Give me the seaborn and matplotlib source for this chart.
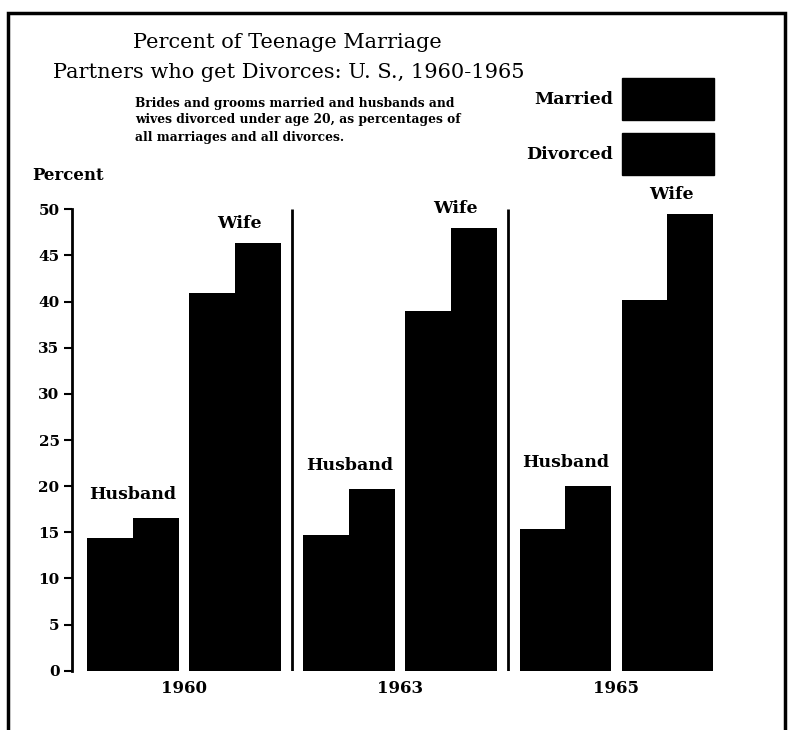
import matplotlib
matplotlib.use("Agg")
import matplotlib.pyplot as plt
from matplotlib.patches import Rectangle, Patch
import pandas as pd
import seaborn as sns

years = ['1960', '1963', '1965']
spouses = ['Husband', 'Wife']
husband_married = [14.4, 14.7, 15.4]
husband_divorced = [16.5, 19.7, 20.0]
wife_married = [40.9, 39.0, 40.2]
wife_divorced = [46.3, 48.0, 49.5]

sns.set_theme(style='white')
plt.rcParams['font.family'] = ['DejaVu Serif']
plt.rcParams['text.color'] = 'black'
plt.rcParams['xtick.color'] = 'black'
plt.rcParams['ytick.color'] = 'black'

W, H = 793, 730
YEAR_STEP = 2.12

rows = []
for i, yr in enumerate(years):
    for j, sp in enumerate(spouses):
        m = husband_married[i] if sp == 'Husband' else wife_married[i]
        d = husband_divorced[i] if sp == 'Husband' else wife_divorced[i]
        pos = i * YEAR_STEP + j
        rows.append({'pos': pos, 'year': yr, 'spouse': sp, 'status': 'Married', 'pct': m})
        rows.append({'pos': pos, 'year': yr, 'spouse': sp, 'status': 'Divorced', 'pct': d})
df = pd.DataFrame(rows)

fig = plt.figure(figsize=(W / 100, H / 100), dpi=100)
fig.patch.set_facecolor('white')

def fx(x):
    return x / W

def fy(y):
    return 1 - y / H

ax = fig.add_axes([fx(72), fy(670.7), fx(720) - fx(72), fy(209.3) - fy(670.7)])
sns.barplot(data=df, x='pos', y='pct', hue='status', hue_order=['Married', 'Divorced'],
            native_scale=True, palette=['black', 'black'], width=0.9, saturation=1,
            errorbar=None, legend=False, linewidth=0, ax=ax)
ax.set_xlim(-0.598, 5.755)
ax.set_ylim(0, 50)
ax.set_facecolor('white')

for s in ['top', 'right', 'bottom']:
    ax.spines[s].set_visible(False)
ax.spines['left'].set_linewidth(2)
ax.spines['left'].set_color('black')
ax.set_yticks(range(0, 51, 5))
ax.tick_params(axis='y', direction='out', length=6, width=1.5, color='black', left=True,
               labelsize=11, pad=3)
for t in ax.get_yticklabels():
    t.set_fontweight('bold')

ax.set_xticks([i * YEAR_STEP + 0.5 for i in range(len(years))])
ax.set_xticklabels(years, fontsize=12, fontweight='bold')
ax.tick_params(axis='x', length=0, pad=7)
ax.set_xlabel('')
ax.set_ylabel('')

# separators between years
for i in range(len(years) - 1):
    xs = (i * YEAR_STEP + 1 + (i + 1) * YEAR_STEP) / 2
    ax.vlines(xs, 0, 50, color='black', lw=2)

# spouse labels above each pair
for i in range(len(years)):
    ax.annotate('Husband', (i * YEAR_STEP, husband_divorced[i]), xytext=(0, 17),
                textcoords='offset points', ha='center', va='center',
                fontsize=12.5, fontweight='bold')
    ax.annotate('Wife', (i * YEAR_STEP + 1, wife_divorced[i]), xytext=(3, 14),
                textcoords='offset points', ha='center', va='center',
                fontsize=12.5, fontweight='bold')

# titles
fig.text(fx(287), fy(43), 'Percent of Teenage Marriage', ha='center', va='center', fontsize=15)
fig.text(fx(289), fy(72), 'Partners who get Divorces: U. S., 1960-1965', ha='center',
         va='center', fontsize=15)
fig.text(fx(135), fy(120), 'Brides and grooms married and husbands and\n'
         'wives divorced under age 20, as percentages of\nall marriages and all divorces.',
         ha='left', va='center', fontsize=8.8, fontweight='bold', linespacing=1.4)
fig.text(fx(32), fy(175), 'Percent', ha='left', va='center', fontsize=12, fontweight='bold')

# legend
fig.legend(handles=[Patch(color='black'), Patch(color='black')], labels=['Married', 'Divorced'],
           loc='upper right', bbox_to_anchor=(fx(714), fy(78)), frameon=False,
           markerfirst=False, prop={'size': 12.5, 'weight': 'bold'}, handlelength=5.3,
           handleheight=3.35, labelspacing=0.75, handletextpad=0.5, borderpad=0,
           borderaxespad=0)

# page frame
fig.patches.append(Rectangle((fx(8), -0.1), fx(785) - fx(8), fy(13) + 0.1,
                             transform=fig.transFigure, fill=False, lw=2.5,
                             edgecolor='black'))

fig.savefig('out.png', dpi=100, facecolor='white')
